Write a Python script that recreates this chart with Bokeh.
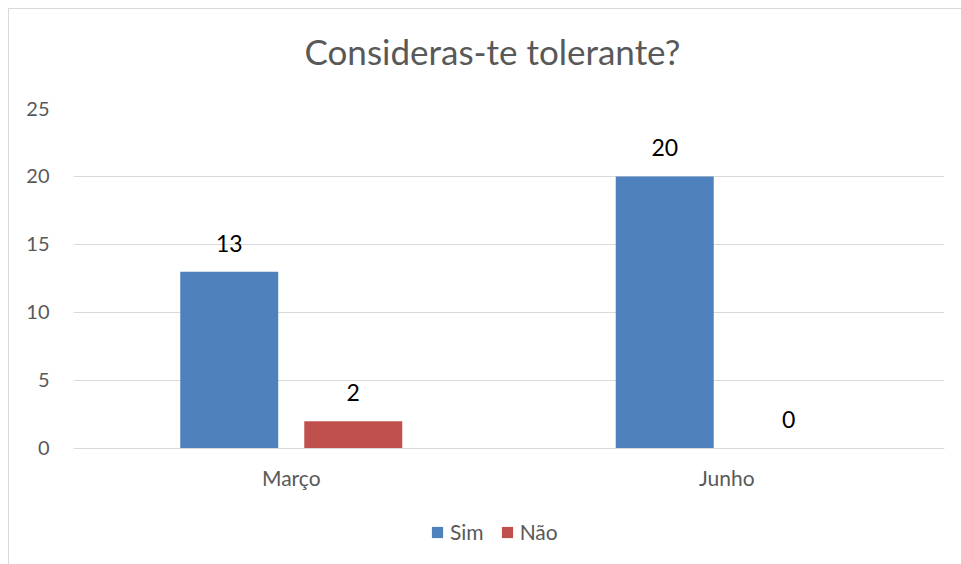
from bokeh.plotting import figure
from bokeh.models import ColumnDataSource, FactorRange, Range1d, LabelSet, Legend, LegendItem, FixedTicker, Title
from bokeh.core.properties import value
from bokeh.transform import dodge
from bokeh.embed import file_html
from bokeh.resources import INLINE

months = ["Março", "Junho"]
sim = [13, 20]
nao = [2, 0]
y_ticks = [0, 5, 10, 15, 20, 25]

FONT = "Lato"
GREY = "#595959"

src = ColumnDataSource(dict(month=months, sim=sim, nao=nao,
                            sim_t=[str(v) for v in sim], nao_t=[str(v) for v in nao]))

p = figure(width=953, height=556, x_range=FactorRange(factors=months), y_range=Range1d(-8.603, 25),
           output_backend="svg", toolbar_location=None, title=None,
           min_border_left=64, min_border_right=18, min_border_top=99, min_border_bottom=0)
p.styles = {"margin-left": "8px", "margin-top": "8px",
            "border-left": "1px solid #d9d9d9", "border-top": "1px solid #d9d9d9"}

off = 0.1424
w = 0.225
r1 = p.vbar(x=dodge("month", -off, range=p.x_range), top="sim", bottom=0, width=w, source=src,
            fill_color="#4F81BD", line_color=None)
r2 = p.vbar(x=dodge("month", off, range=p.x_range), top="nao", bottom=0, width=w, source=src,
            fill_color="#C0504D", line_color=None)

for col, o in (("sim", -off), ("nao", off)):
    p.add_layout(LabelSet(x=dodge("month", o, range=p.x_range), y=col, text=col + "_t", source=src,
                          text_align="center", text_baseline="alphabetic", y_offset=20,
                          text_font=value(FONT), text_font_size="23px", text_color="#000000"))

# spacer (closest to the frame), then the main title above it
p.add_layout(Title(text=" ", text_font_size="1px", standoff=34), "above")
p.add_layout(Title(text="Consideras-te tolerante?", align="left", offset=231, text_font=FONT,
                   text_font_size="35px", text_font_style="normal", text_color=GREY, standoff=0), "above")

p.outline_line_color = None
p.xgrid.grid_line_color = None
p.ygrid.grid_line_color = "#d9d9d9"
p.ygrid.grid_line_width = 1
p.yaxis.ticker = FixedTicker(ticks=y_ticks)
p.yaxis.axis_line_color = None
p.yaxis.major_tick_line_color = None
p.yaxis.minor_tick_line_color = None
p.yaxis.major_label_text_font = FONT
p.yaxis.major_label_text_font_size = "20px"
p.yaxis.major_label_text_color = GREY
p.yaxis.major_label_standoff = 18

p.xaxis.fixed_location = 0
p.xaxis.axis_line_color = "#d9d9d9"
p.xaxis.major_tick_line_color = None
p.xaxis.minor_tick_line_color = None
p.xaxis.major_label_text_font = FONT
p.xaxis.major_label_text_font_size = "21px"
p.xaxis.major_label_text_color = GREY
p.xaxis.major_label_standoff = 11

legend = Legend(items=[LegendItem(label="Sim", renderers=[r1]), LegendItem(label="Não", renderers=[r2])],
                orientation="horizontal", location=(357, 21),
                label_text_font=FONT, label_text_font_size="21px", label_text_color=GREY,
                glyph_width=14, glyph_height=14, label_standoff=6, spacing=16,
                border_line_color=None, background_fill_alpha=0, margin=0, padding=0)
p.add_layout(legend)

open("out.html", "w").write(file_html(p, INLINE))
